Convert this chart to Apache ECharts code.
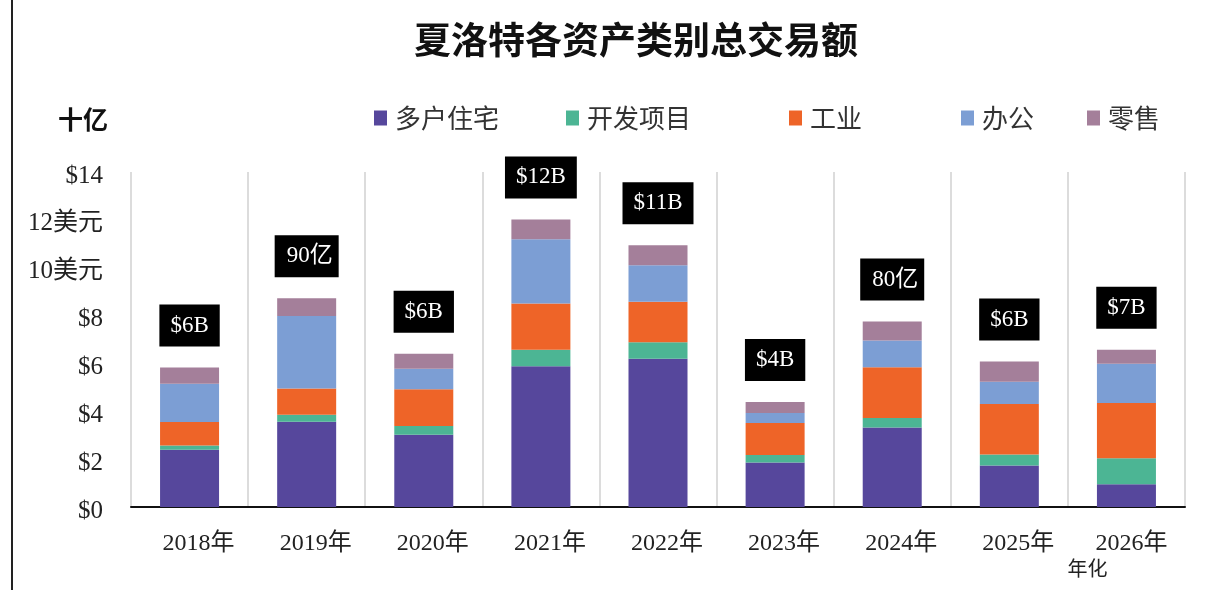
<!DOCTYPE html>
<html><head><meta charset="utf-8">
<script src="https://cdn.jsdelivr.net/npm/echarts@6/dist/echarts.min.js"></script>
<style>html,body{margin:0;padding:0;background:#fff}#c{width:1215px;height:590px}</style>
</head><body><div id="c"></div>
<script>
const categories = ['2018年','2019年','2020年','2021年','2022年','2023年','2024年','2025年','2026年'];
const seriesNames = ['多户住宅','开发项目','工业','办公','零售'];
const multifamily = [2.39, 3.56, 3.02, 5.88, 6.20, 1.86, 3.32, 1.73, 0.95];
const development = [0.18, 0.30, 0.37, 0.69, 0.69, 0.31, 0.40, 0.46, 1.09];
const industrial  = [0.98, 1.09, 1.53, 1.93, 1.69, 1.34, 2.12, 2.11, 2.31];
const office      = [1.60, 3.03, 0.86, 2.69, 1.52, 0.42, 1.12, 0.93, 1.64];
const retail      = [0.68, 0.74, 0.62, 0.83, 0.84, 0.46, 0.79, 0.85, 0.58];
const totalLabels = ['$6B','90亿美元','$6B','$12B','$11B','$4B','80亿美元','$6B','$7B'];
const yTickLabels = ['$0','$2','$4','$6','$8','10美元','12美元','$14'];
const lastCategoryNote = '年化';

const colors = ['#56479C','#4CB594','#EE6428','#7C9ED4','#A47F9A'];
const legendLefts = [369, 561, 784, 956, 1082];
const serif = "'Liberation Serif','Noto Sans CJK SC',serif";
const sans = "'Noto Sans CJK SC','Noto Sans',sans-serif";

const values = [multifamily, development, industrial, office, retail];

const chart = echarts.init(document.getElementById('c'), null, {renderer:'canvas'});
const series = seriesNames.map((name, si) => {
  const s = {
    name, type:'bar', stack:'total', barWidth:59,
    itemStyle:{color:colors[si]},
    data: values[si].slice()
  };
  if (si === seriesNames.length - 1) {
    s.data = values[si].map((v, i) => {
      const lbl = {formatter: totalLabels[i]};
      if (totalLabels[i].indexOf('亿') >= 0) {
        lbl.width = 54; lbl.overflow = 'truncate'; lbl.ellipsis = '';
        lbl.padding = [9, 2, 9, 8];
      }
      return {value: v, label: lbl};
    });
    s.label = {
      show:true, position:'top', distance:21,
      color:'#fff', backgroundColor:'#000',
      fontFamily:serif, fontSize:23, lineHeight:24,
      padding:[9,11]
    };
  }
  return s;
});

chart.setOption({
  animation:false,
  color: colors,
  title:[
    {text:'夏洛特各资产类别总交易额', left:409, top:16,
     textStyle:{fontFamily:sans, fontWeight:'bold', fontSize:37, color:'#111'}},
    {text:'十亿', left:53, top:102,
     textStyle:{fontFamily:sans, fontWeight:'bold', fontSize:25, color:'#111'}}
  ],
  legend: seriesNames.map((n, i) => ({
    data:[n], left:legendLefts[i], top:100, icon:'rect',
    itemWidth:13, itemHeight:15, itemGap:0,
    textStyle:{fontFamily:sans, fontSize:26, color:'#333', padding:[0,0,0,3]}
  })),
  grid:{left:131, right:30, top:172, bottom:83},
  xAxis:{
    type:'category', data:categories,
    axisLine:{lineStyle:{color:'#111', width:2}},
    axisTick:{show:false},
    splitLine:{show:true, lineStyle:{color:'#dcdcdc', width:2}},
    axisLabel:{
      margin:24, interval:0,
      formatter:(v, i) => i === categories.length - 1
        ? '{c|' + v + '}\n{b|' + lastCategoryNote + '}' : '{a|' + v + '}',
      rich:{
        a:{fontFamily:serif, fontSize:24, lineHeight:25, color:'#222', padding:[0,0,0,18]},
        c:{fontFamily:serif, fontSize:24, lineHeight:25, color:'#222', padding:[0,0,0,10]},
        b:{fontFamily:sans, fontSize:20, lineHeight:25, color:'#222', padding:[0,78,0,0]}
      }
    }
  },
  yAxis:{
    type:'value', min:0, max:14, interval:2,
    axisLine:{show:false}, axisTick:{show:false}, splitLine:{show:false},
    axisLabel:{
      margin:28, color:'#222',
      formatter:(v) => '{v|' + yTickLabels[Math.round(v/2)] + '}',
      rich:{v:{fontFamily:serif, fontSize:25, color:'#222', padding:[8,0,0,0]}}
    }
  },
  graphic:[{type:'line', shape:{x1:12, y1:0, x2:12, y2:590}, style:{stroke:'#222', lineWidth:2}}],
  series
});
</script></body></html>
